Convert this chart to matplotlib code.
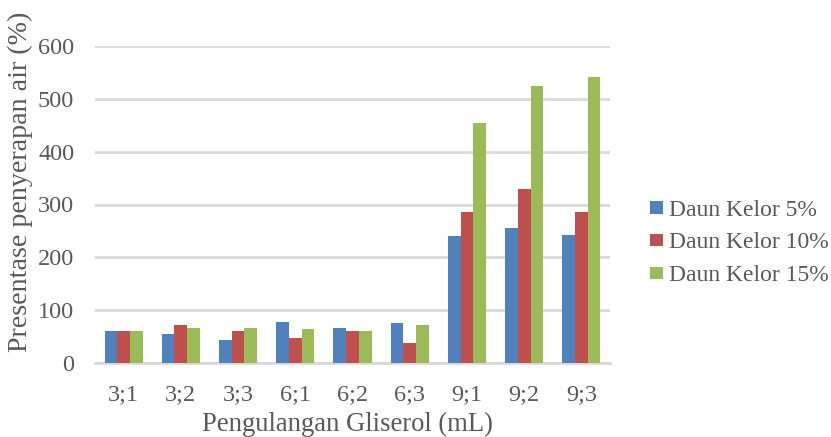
import matplotlib
matplotlib.use("Agg")
import matplotlib.pyplot as plt
import numpy as np

categories = ["3;1", "3;2", "3;3", "6;1", "6;2", "6;3", "9;1", "9;2", "9;3"]
series_names = ["Daun Kelor 5%", "Daun Kelor 10%", "Daun Kelor 15%"]
kelor_5 = [60, 54, 44, 77, 67, 75, 241, 256, 243]
kelor_10 = [60, 71, 60, 48, 60, 37, 286, 329, 286]
kelor_15 = [60, 67, 67, 65, 61, 71, 455, 525, 541]
colors = ["#4F81BD", "#C0504D", "#9BBB59"]

plt.rcParams["font.family"] = ["Liberation Serif", "DejaVu Serif"]
text_color = "#595959"

W, H = 831, 437
fig = plt.figure(figsize=(W / 100, H / 100), dpi=100)
ax = fig.add_axes([95 / W, (H - 363) / H, (610 - 95) / W, (363 - 46) / H])

x = np.arange(len(categories))
width = 1 / 4.5
for i, (vals, name, c) in enumerate(zip([kelor_5, kelor_10, kelor_15], series_names, colors)):
    ax.bar(x + (i - 1) * width, vals, width, color=c, label=name, zorder=3)

ax.set_xlim(-0.5, len(categories) - 0.5)
ax.set_ylim(0, 600)
ax.set_yticks(np.arange(0, 601, 100))
ax.set_xticks(x)
ax.set_xticklabels(categories)
ax.grid(axis="y", color="#D9D9D9", linewidth=2, zorder=0)
for s in ["top", "right", "left"]:
    ax.spines[s].set_visible(False)
ax.spines["bottom"].set_color("#D9D9D9")
ax.spines["bottom"].set_linewidth(2)
ax.tick_params(axis="both", length=0, labelsize=17.5, colors=text_color)
ax.tick_params(axis="x", pad=15)
ax.tick_params(axis="y", pad=15)

# axis titles
fig.text(347 / W, 6 / H, "Pengulangan Gliserol (mL)", ha="center", va="baseline",
         fontsize=19.2, color=text_color)
fig.text(20 / W, 1 - 182 / H, "Presentase penyerapan air (%)", rotation=90,
         ha="center", va="center", fontsize=20.2, color=text_color)

leg = fig.legend(loc="center left", bbox_to_anchor=(650 / W, 1 - 243 / H),
                 frameon=False, fontsize=17, handlelength=0.55, handleheight=0.45,
                 handletextpad=0.25, labelspacing=0.5, borderpad=0, borderaxespad=0,
                 labelcolor=text_color)

fig.savefig("out.png", dpi=100)
